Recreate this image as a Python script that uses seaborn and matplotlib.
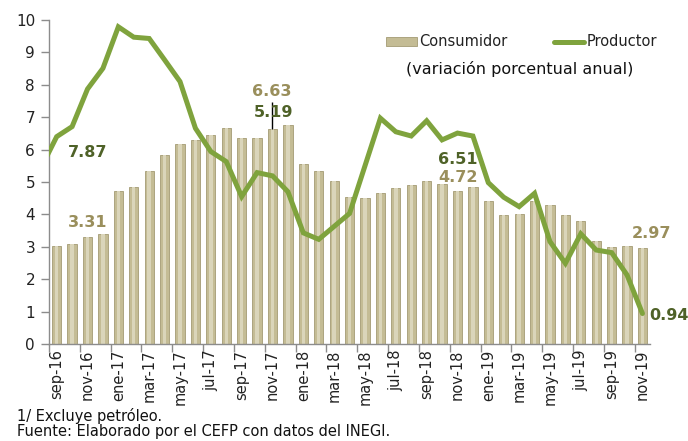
import numpy as np
import pandas as pd
import matplotlib
matplotlib.use('Agg')
import matplotlib.pyplot as plt
import seaborn as sns
from matplotlib.patches import Patch
from matplotlib.lines import Line2D

# data (sep-16 .. nov-19)
months = ['sep-16', 'oct-16', 'nov-16', 'dic-16',
          'ene-17', 'feb-17', 'mar-17', 'abr-17', 'may-17', 'jun-17',
          'jul-17', 'ago-17', 'sep-17', 'oct-17', 'nov-17', 'dic-17',
          'ene-18', 'feb-18', 'mar-18', 'abr-18', 'may-18', 'jun-18',
          'jul-18', 'ago-18', 'sep-18', 'oct-18', 'nov-18', 'dic-18',
          'ene-19', 'feb-19', 'mar-19', 'abr-19', 'may-19', 'jun-19',
          'jul-19', 'ago-19', 'sep-19', 'oct-19', 'nov-19']
consumidor = [3.02, 3.08, 3.31, 3.38,
              4.72, 4.86, 5.35, 5.82, 6.16, 6.31,
              6.44, 6.66, 6.35, 6.37, 6.63, 6.77,
              5.55, 5.34, 5.04, 4.55, 4.51, 4.65,
              4.81, 4.90, 5.02, 4.94, 4.72, 4.86,
              4.40, 3.97, 4.00, 4.41, 4.30, 3.97,
              3.80, 3.18, 3.00, 3.02, 2.97]
productor = [6.40, 6.71, 7.87, 8.51,
             9.79, 9.47, 9.43, 8.77, 8.10, 6.66,
             5.94, 5.63, 4.55, 5.29, 5.19, 4.70,
             3.43, 3.23, 3.63, 4.03, 5.50, 6.97,
             6.55, 6.42, 6.89, 6.30, 6.51, 6.42,
             4.98, 4.53, 4.24, 4.65, 3.16, 2.49,
             3.40, 2.90, 2.82, 2.13, 0.94]
productor_ago16 = 5.45  # previous month, only its segment shows at the left edge

df = pd.DataFrame({'mes': months, 'Consumidor': consumidor, 'Productor': productor})

sns.set_theme(style='white')
plt.rcParams['font.family'] = ['DejaVu Sans']

tan = '#C4BC95'
tan_light = '#DAD5BA'
green = '#7FA33D'
dark_green = '#4F6228'
tan_text = '#9A8F5C'
axis_gray = '#8C8C8C'

fig = plt.figure(figsize=(6.88, 4.41), dpi=100)
ax = fig.add_axes([0.0712, 0.22, 0.8738, 0.7346])

sns.barplot(data=df, x='mes', y='Consumidor', color=tan, width=0.6,
            saturation=1, edgecolor='#A39B74', linewidth=0.6, ax=ax)
sns.barplot(data=df, x='mes', y='Consumidor', color=tan_light, width=0.22,
            saturation=1, linewidth=0, ax=ax)

x = np.arange(len(months))
ax.plot(np.concatenate([[-1], x]), [productor_ago16] + productor,
        color=green, lw=3.6, solid_joinstyle='miter', zorder=5)

ax.set_xlim(-0.5, len(months) - 0.5)
ax.set_ylim(0, 10)
ax.set_yticks(range(0, 11))
ax.tick_params(axis='y', labelsize=11, length=6, width=1, color=axis_gray,
               left=True, pad=4, labelcolor='#222222')

# tick marks between bars every two months, labels under every other month
ax.set_xticks(np.arange(-0.5, len(months) - 0.5, 2))
ax.set_xticklabels([])
ax.set_xticks(x[::2], minor=True)
ax.set_xticklabels(months[::2], minor=True, rotation=90, fontsize=10.5,
                   color='#222222')
ax.tick_params(axis='x', which='major', length=6, width=1, color=axis_gray,
               bottom=True)
ax.tick_params(axis='x', which='minor', length=0, pad=4)
ax.set_xlabel('')
ax.set_ylabel('')

for s in ['top', 'right']:
    ax.spines[s].set_visible(False)
for s in ['left', 'bottom']:
    ax.spines[s].set_color(axis_gray)
    ax.spines[s].set_linewidth(1)

# data labels
i_nov17 = months.index('nov-17')
ax.vlines(i_nov17, consumidor[i_nov17], 7.47, color='black', lw=1, zorder=6)
lab = dict(fontsize=11.5, fontweight='bold', ha='center', va='center', zorder=7)
ax.text(13.95, 7.80, f"{consumidor[i_nov17]:.2f}", color=tan_text, **lab)
ax.text(14.1, 7.14, f"{productor[i_nov17]:.2f}", color=dark_green, **lab)
i = months.index('nov-16')
ax.text(i, 3.76, f"{consumidor[i]:.2f}", color=tan_text, **lab)
ax.text(i, 5.90, f"{productor[i]:.2f}", color=dark_green, **lab)
i = months.index('nov-18')
ax.text(i + 0.05, 5.70, f"{productor[i]:.2f}", color=dark_green, **lab)
ax.text(i + 0.05, 5.14, f"{consumidor[i]:.2f}", color=tan_text, **lab)
i = months.index('nov-19')
ax.text(i + 0.6, 3.40, f"{consumidor[i]:.2f}", color=tan_text, **lab)
lab['ha'] = 'left'
ax.text(i + 0.45, 0.87, f"{productor[i]:.2f}", color=dark_green, **lab)

handles = [Patch(facecolor=tan, edgecolor='#A39B74', linewidth=0.6),
           Line2D([0], [0], color=green, lw=3.6)]
fig.legend(handles, ['Consumidor', 'Productor'], loc='center',
           bbox_to_anchor=(0.758, 0.905), ncol=2, frameon=False,
           fontsize=10.5, handlelength=2.1, handleheight=0.6,
           handletextpad=0.15, columnspacing=3.2, labelcolor='#222222')
fig.text(0.756, 0.843, '(variación porcentual anual)', ha='center',
         va='center', fontsize=11.5, color='#111111')

fig.text(0.025, 0.057, '1/ Excluye petróleo.', ha='left', va='center',
         fontsize=10.5, color='#111111')
fig.text(0.025, 0.005, 'Fuente: Elaborado por el CEFP con datos del INEGI.',
         ha='left', va='bottom', fontsize=10.5, color='#111111')

fig.savefig('out.png', dpi=100)
